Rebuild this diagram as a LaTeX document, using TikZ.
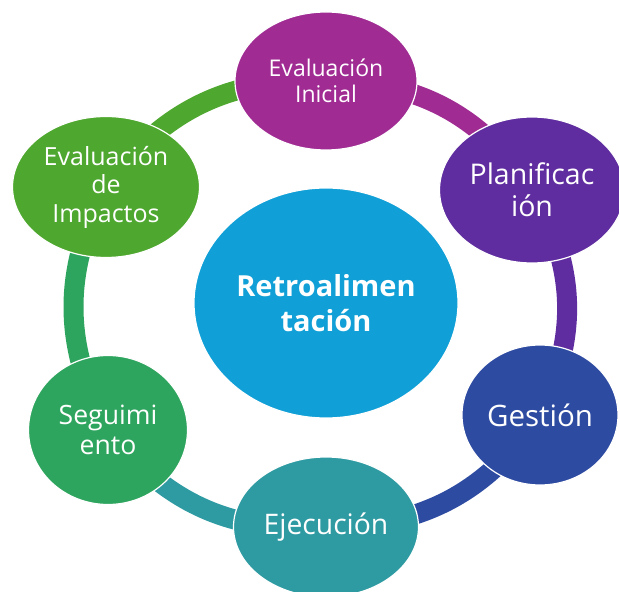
\documentclass[tikz,border=0pt]{standalone}
\usepackage{fontspec}
\setmainfont{Open Sans}
\usetikzlibrary{shapes.geometric,backgrounds}

\begin{document}
\begin{tikzpicture}[x=1pt,y=1pt,
  fase/.style={ellipse, draw=white, line width=1.2pt, text=white, align=center, inner sep=0pt},
  anillo/.style={line width=20pt}]

% Colores de las fases
\definecolor{colCentro}{HTML}{109FD6}
\definecolor{colIni}{HTML}{A02B93}
\definecolor{colPlan}{HTML}{5F2D9F}
\definecolor{colGes}{HTML}{2E4BA2}
\definecolor{colEje}{HTML}{2E9AA2}
\definecolor{colSeg}{HTML}{2EA55E}
\definecolor{colImp}{HTML}{4EA72E}

\useasboundingbox (0,0) rectangle (619,592);

% Nodo central
\node[fase, fill=colCentro, minimum width=264, minimum height=230,
  font=\fontsize{29}{35}\selectfont\bfseries] (centro) at (326,289) {Retroalimen\\tación};

% Fases del ciclo
\node[fase, fill=colIni, minimum width=182, minimum height=138,
  font=\fontsize{23}{26.5}\selectfont] (ini) at (326,511) {Evaluación\\Inicial};
\node[fase, fill=colPlan, minimum width=185, minimum height=146,
  font=\fontsize{28.5}{32}\selectfont] (plan) at (532,402) {Planificac\\ión};
\node[fase, fill=colGes, minimum width=156, minimum height=140,
  font=\fontsize{29.5}{32}\selectfont] (ges) at (540,177) {Gestión};
\node[fase, fill=colEje, minimum width=185, minimum height=140,
  font=\fontsize{28.3}{32}\selectfont] (eje) at (326,65) {Ejecución};
\node[fase, fill=colSeg, minimum width=159, minimum height=149,
  font=\fontsize{26.6}{30}\selectfont] (seg) at (108,162) {Seguimi\\ento};
\node[fase, fill=colImp, minimum width=187, minimum height=141,
  font=\fontsize{25}{28.5}\selectfont] (imp) at (106,405) {Evaluación\\de\\Impactos};

% Anillo entre fases
\begin{scope}[on background layer]
\draw[anillo, colIni] (ini.center) to[bend left=28] (plan.center);
\draw[anillo, colPlan] (plan.center) to[bend left=28] (ges.center);
\draw[anillo, colGes] (ges.center) to[bend left=28] (eje.center);
\draw[anillo, colEje] (eje.center) to[bend left=28] (seg.center);
\draw[anillo, colSeg] (seg.center) to[bend left=28] (imp.center);
\draw[anillo, colImp] (imp.center) to[bend left=28] (ini.center);
\end{scope}

\end{tikzpicture}
\end{document}
